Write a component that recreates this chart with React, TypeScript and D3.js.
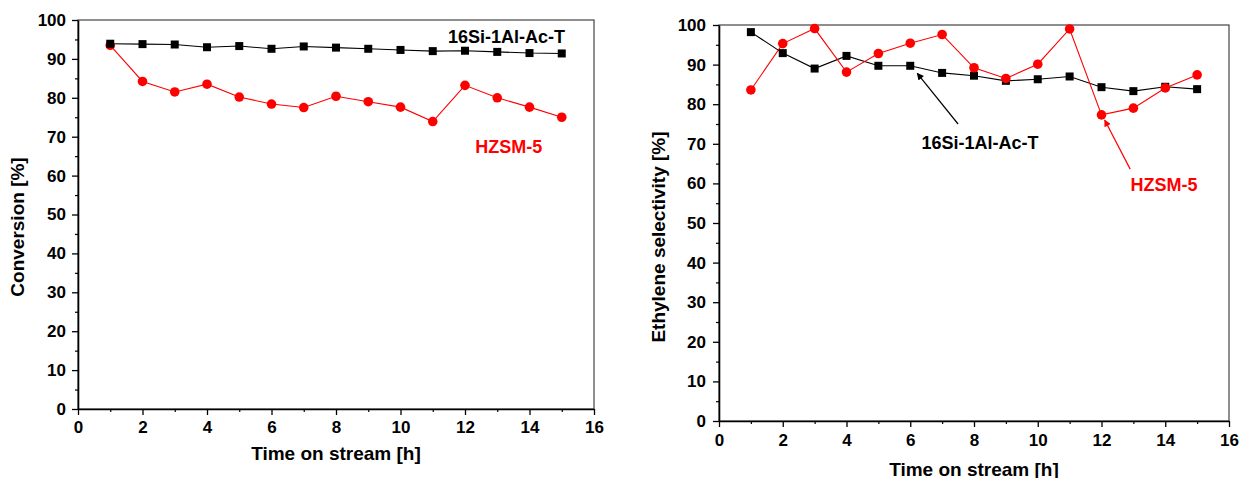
import * as d3 from "d3";
import React, { useEffect, useRef } from "react";

// time on stream, h
const hours = [1, 2, 3, 4, 5, 6, 7, 8, 9, 10, 11, 12, 13, 14, 15];

// conversion [%]
const conversionAcT = [93.9, 93.8, 93.7, 93.0, 93.3, 92.6, 93.2, 92.9, 92.6, 92.3, 92.0, 92.1, 91.8, 91.5, 91.4];
const conversionHZSM = [93.5, 84.2, 81.5, 83.5, 80.2, 78.4, 77.5, 80.4, 79.0, 77.6, 73.9, 83.2, 80.0, 77.6, 75.0];

// ethylene selectivity [%]
const selectivityAcT = [98.2, 92.9, 89.0, 92.2, 89.7, 89.7, 87.9, 87.2, 85.9, 86.3, 87.0, 84.3, 83.3, 84.4, 83.8];
const selectivityHZSM = [83.6, 95.3, 99.1, 88.1, 92.8, 95.4, 97.6, 89.2, 86.5, 90.1, 99.0, 77.3, 79.0, 84.1, 87.4];

const xTicks = [0, 2, 4, 6, 8, 10, 12, 14, 16];
const xMinor = [1, 3, 5, 7, 9, 11, 13, 15];
const yTicks = [0, 10, 20, 30, 40, 50, 60, 70, 80, 90, 100];
const yMinor = [5, 15, 25, 35, 45, 55, 65, 75, 85, 95];

const FONT = "'Liberation Sans', Arial, sans-serif";
const RED = "#ff0000";

const drawPanel = (svg, p) => {
  const x = d3.scaleLinear().domain([0, 16]).range([p.left, p.right]);
  const y = d3.scaleLinear().domain([0, 100]).range([p.bottom, p.top]);
  const g = svg.append("g");

  // frame (top/right)
  g.append("rect")
    .attr("x", p.left)
    .attr("y", p.top)
    .attr("width", p.right - p.left)
    .attr("height", p.bottom - p.top)
    .attr("fill", "none")
    .attr("stroke", "#444")
    .attr("stroke-width", 1.2);

  const styleAxis = (a) => {
    a.selectAll("text")
      .attr("font-family", FONT)
      .attr("font-weight", "bold")
      .attr("font-size", 17)
      .attr("fill", "#000");
    a.selectAll("line").attr("stroke", "#000").attr("stroke-width", 1.3);
    a.select(".domain").attr("stroke", "#000").attr("stroke-width", 1.6);
  };

  const xa = g.append("g")
    .attr("transform", `translate(0,${p.bottom})`)
    .call(d3.axisBottom(x).tickValues(xTicks).tickSize(6).tickSizeOuter(0).tickPadding(p.xPad));
  styleAxis(xa);
  const xm = g.append("g")
    .attr("transform", `translate(0,${p.bottom})`)
    .call(d3.axisBottom(x).tickValues(xMinor).tickSize(3).tickFormat(() => ""));
  xm.select(".domain").remove();
  xm.selectAll("line").attr("stroke", "#000").attr("stroke-width", 1.2);

  const ya = g.append("g")
    .attr("transform", `translate(${p.left},0)`)
    .call(d3.axisLeft(y).tickValues(yTicks).tickSize(6).tickSizeOuter(0).tickPadding(p.yPad));
  styleAxis(ya);
  const ym = g.append("g")
    .attr("transform", `translate(${p.left},0)`)
    .call(d3.axisLeft(y).tickValues(yMinor).tickSize(3).tickFormat(() => ""));
  ym.select(".domain").remove();
  ym.selectAll("line").attr("stroke", "#000").attr("stroke-width", 1.2);

  // titles
  g.append("text")
    .attr("x", (p.left + p.right) / 2)
    .attr("y", p.xTitleY)
    .attr("text-anchor", "middle")
    .attr("font-family", FONT)
    .attr("font-weight", "bold")
    .attr("font-size", 19)
    .text("Time on stream [h]");
  g.append("text")
    .attr("transform", `translate(${p.yTitleX},${p.yTitleCy}) rotate(-90)`)
    .attr("text-anchor", "middle")
    .attr("dominant-baseline", "central")
    .attr("font-family", FONT)
    .attr("font-weight", "bold")
    .attr("font-size", 19)
    .text(p.yTitle);

  const line = (vals) => d3.line().x((d, i) => x(hours[i])).y((d) => y(d))(vals);

  // black series (squares)
  g.append("path").attr("d", line(p.black)).attr("fill", "none").attr("stroke", "#000").attr("stroke-width", 1.1);
  // red series (circles)
  g.append("path").attr("d", line(p.red)).attr("fill", "none").attr("stroke", RED).attr("stroke-width", 1.1);

  const squares = () =>
    g.selectAll(null).data(p.black).enter().append("rect")
      .attr("x", (d, i) => x(hours[i]) - 4).attr("y", (d) => y(d) - 4)
      .attr("width", 8).attr("height", 8).attr("fill", "#000");
  const circles = () =>
    g.selectAll(null).data(p.red).enter().append("circle")
      .attr("cx", (d, i) => x(hours[i])).attr("cy", (d) => y(d)).attr("r", 4.8).attr("fill", RED);

  if (p.redOnTop) {
    squares();
    circles();
  } else {
    circles();
    squares();
  }

  p.labels.forEach((l) => {
    g.append("text")
      .attr("x", x(l.x))
      .attr("y", y(l.y))
      .attr("text-anchor", l.anchor)
      .attr("font-family", FONT)
      .attr("font-weight", "bold")
      .attr("font-size", 18)
      .attr("fill", l.color)
      .text(l.text);
  });

  (p.arrows || []).forEach((a) => {
    g.append("line")
      .attr("x1", x(a.from[0])).attr("y1", y(a.from[1]))
      .attr("x2", x(a.to[0])).attr("y2", y(a.to[1]))
      .attr("stroke", a.color)
      .attr("stroke-width", 1.2)
      .attr("marker-end", `url(#${a.marker})`);
  });
};

export default function App() {
  const ref = useRef(null);

  useEffect(() => {
    const svg = d3.select(ref.current);
    svg.selectAll("*").remove();

    const defs = svg.append("defs");
    [["arrowBlack", "#000"], ["arrowRed", RED]].forEach(([id, c]) => {
      defs.append("marker")
        .attr("id", id)
        .attr("viewBox", "0 0 10 10")
        .attr("refX", 9)
        .attr("refY", 5)
        .attr("markerWidth", 9)
        .attr("markerHeight", 7)
        .attr("markerUnits", "userSpaceOnUse")
        .attr("orient", "auto")
        .append("path")
        .attr("d", "M0,0 L10,5 L0,10 z")
        .attr("fill", c);
    });

    drawPanel(svg, {
      left: 78, right: 594, top: 20, bottom: 409,
      xPad: 6, yPad: 6,
      xTitleY: 460,
      yTitleX: 17, yTitleCy: 227,
      yTitle: "Conversion [%]",
      black: conversionAcT,
      red: conversionHZSM,
      redOnTop: false,
      labels: [
        { text: "16Si-1Al-Ac-T", x: 15.1, y: 94.0, anchor: "end", color: "#000" },
        { text: "HZSM-5", x: 13.36, y: 65.7, anchor: "middle", color: RED },
      ],
    });

    drawPanel(svg, {
      left: 719, right: 1229, top: 25, bottom: 421,
      xPad: 7, yPad: 7,
      xTitleY: 476,
      yTitleX: 658, yTitleCy: 237,
      yTitle: "Ethylene selectivity [%]",
      black: selectivityAcT,
      red: selectivityHZSM,
      redOnTop: true,
      labels: [
        { text: "16Si-1Al-Ac-T", x: 8.19, y: 68.6, anchor: "middle", color: "#000" },
        { text: "HZSM-5", x: 13.96, y: 58.0, anchor: "middle", color: RED },
      ],
      arrows: [
        { from: [7.5, 75.0], to: [6.22, 87.8], color: "#000", marker: "arrowBlack" },
        { from: [12.9, 63.6], to: [12.1, 76.0], color: RED, marker: "arrowRed" },
      ],
    });
  }, []);

  return (
    <svg
      ref={ref}
      width={1239}
      height={478}
      style={{ position: "absolute", left: 0, top: 0, background: "#fff" }}
    ></svg>
  );
}
